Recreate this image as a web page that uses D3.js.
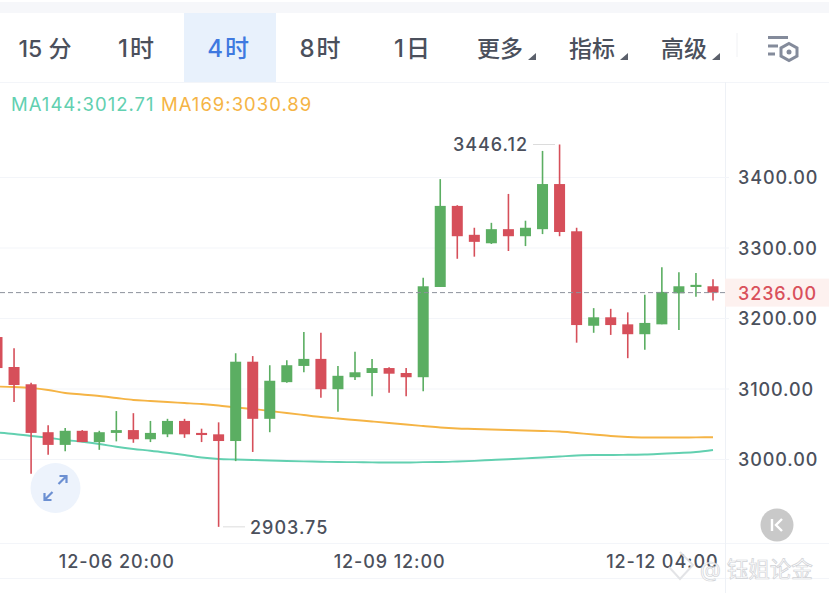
<!DOCTYPE html>
<html>
<head>
<meta charset="utf-8">
<title>K-line 4h</title>
<script src="https://cdn.jsdelivr.net/npm/d3@7/dist/d3.min.js"></script>
<style>
html, body { margin: 0; padding: 0; background: #fff; }
svg { display: block; }
text { font-family: Inter, "Noto Sans CJK SC", sans-serif; }
.tab { font-family: Inter, "Noto Sans CJK SC", sans-serif; font-size: 23px; font-weight: 500; }
.axis path { display: none; }
</style>
</head>
<body>
<div id="chart"></div>
<script>
// toolbar
var tabs = ["15 分", "1时", "4时", "8时", "1日", "更多", "指标", "高级"];
var menuTabs = ["更多", "指标", "高级"];
var activeTab = "4时";

// one 4h candle per entry
var times = ["12-05 16:00","12-05 20:00","12-06 00:00","12-06 04:00","12-06 08:00","12-06 12:00","12-06 16:00","12-06 20:00",
  "12-07 00:00","12-07 04:00","12-07 08:00","12-07 12:00","12-07 16:00","12-07 20:00","12-08 00:00","12-08 04:00",
  "12-08 08:00","12-08 12:00","12-08 16:00","12-08 20:00","12-09 00:00","12-09 04:00","12-09 08:00","12-09 12:00",
  "12-09 16:00","12-09 20:00","12-10 00:00","12-10 04:00","12-10 08:00","12-10 12:00","12-10 16:00","12-10 20:00",
  "12-11 00:00","12-11 04:00","12-11 08:00","12-11 12:00","12-11 16:00","12-11 20:00","12-12 00:00","12-12 04:00",
  "12-12 08:00","12-12 12:00","12-12 16:00"];
var opens = [3173,3130.5,3106,3038,3020,3040,3024,3037,3041,3028,3035,3054,3037,3035,3025.5,3138,3057,3109,3132,3142,3099,3116,3122,3129,
  3122,3116,3244,3359,3318,3306,3326,3316,3326,3390,3323,3189,3201,3191,3177,3191,3235,3244,3245];
var closes = [3129,3105,3037,3020,3040,3024,3038,3041,3028,3037,3054,3035,3034,3025.5,3138,3057,3111,3133,3142,3099,3118,3123,3129,3121,
  3116,3245,3359,3316,3308,3326,3316,3328,3390,3322,3190,3201,3190,3177,3193,3237,3245,3247,3236];
var highs = [3173,3157,3108,3048,3044,3041,3040,3068,3065,3054,3057,3057,3043,3052,3150,3146,3133,3140,3180,3179,3132,3152,3142,3130,
  3129,3257,3397,3360,3328,3335,3376,3338,3437,3446.12,3328,3214,3213,3208,3233,3272,3265,3264,3255];
var lows = [3129,3081,2979,3006,3011,3024,3013,3025,3023,3024,3031,3030,3024,2903.75,2997,3010,3038,3108,3123,3087,3067,3112,3089,3094,
  3089,3096,3244,3284,3287,3305,3295,3302,3319,3316,3165,3179,3176,3143,3155,3191,3183,3230,3225];
var ma144 = [3037.6,3035.5,3032.6,3030.2,3026.9,3024.5,3021.3,3017.4,3014.2,3011.8,3008.9,3005.7,3002.1,3000,2999.3,2998.6,2997.9,2997.2,2996.7,2996.2,2995.7,2995.5,2995.2,2995,
  2995,2995.5,2995.7,2996.5,2997.4,2998.6,2999.7,3000.9,3002.1,3003.5,3005,3005.7,3005.7,3006,3006.4,3007.4,3008.5,3009.9,3012.71];
var ma169 = [3102.8,3102.1,3100.7,3097.9,3093.6,3091.5,3089.4,3086.5,3083.7,3082.3,3080.8,3079.4,3078,3075.9,3073,3070.9,3068.1,3065.2,3062.4,3059.6,3057.4,3055.3,3053.2,3051.1,
  3048.9,3046.8,3044.7,3043.3,3042.6,3041.8,3041.1,3040.4,3039.7,3039,3036.9,3034.8,3032.6,3031.2,3030.5,3030.5,3030.5,3030.7,3030.89];

var priceTicks = [3000, 3100, 3200, 3300, 3400];
var timeTicks = ["12-06 20:00", "12-09 12:00", "12-12 04:00"];
var lastPrice = 3236.00;
var maxPrice = 3446.12;
var minPrice = 2903.75;

var red = "#d64f5a", green = "#5bae62", orange = "#f5b445", teal = "#62d0b0";
var textColor = "#4b505c", lineColor = "#f3f5f9";

var width = 829, height = 593;
var svg = d3.select("#chart").append("svg")
  .attr("width", width)
  .attr("height", height);

var x = d3.scalePoint().domain(times).range([-3, 713]);
var y = d3.scaleLinear().domain([3000, 3400]).range([459, 177]);

// top strip and toolbar
svg.append("rect").attr("x", 0).attr("y", 2).attr("width", width).attr("height", 11).style("fill", "#f6f7fa");

var tabX = d3.scaleBand().domain(tabs).range([0, 736]);
svg.append("rect")
  .attr("x", tabX(activeTab)).attr("y", 13)
  .attr("width", tabX.bandwidth()).attr("height", 69)
  .style("fill", "#e8f1fc");

svg.selectAll(".tab").data(tabs).enter().append("text")
  .attr("class", "tab")
  .attr("x", function(d) { return tabX(d) + tabX.bandwidth() / 2 - (menuTabs.indexOf(d) >= 0 ? 6 : 1); })
  .attr("y", 57)
  .attr("text-anchor", "middle")
  .style("font-size", function(d) { return d.length == 2 && menuTabs.indexOf(d) < 0 ? "24px" : null; })
  .style("letter-spacing", function(d) { return d.length == 2 && menuTabs.indexOf(d) < 0 ? "2px" : null; })
  .style("fill", function(d) { return d == activeTab ? "#3f79e0" : textColor; })
  .text(function(d) { return d; });

// little corner triangles on the drop down tabs
svg.selectAll(".menu").data(menuTabs).enter().append("path")
  .attr("class", "menu")
  .attr("transform", function(d) { return "translate(" + (tabX(d) + tabX.bandwidth() / 2 + 30) + ",60)"; })
  .attr("d", "M-8 0L0 0L0-7Z")
  .style("fill", "#5b606b");

svg.append("line").attr("x1", 737).attr("x2", 737).attr("y1", 33).attr("y2", 57).style("stroke", "#f0f1f4");

// settings icon
var icon = svg.append("g").attr("transform", "translate(768,36)");
icon.append("path").attr("d", "M0 1.5H20M0 10H10M0 18H7").style("stroke", "#848b9b").style("stroke-width", 3).style("fill", "none");
icon.append("path").attr("d", "M21 7.5L29 12V20L21 24.5L13 20V12Z").style("stroke", "#848b9b").style("stroke-width", 3).style("fill", "none");
icon.append("circle").attr("cx", 21).attr("cy", 16).attr("r", 2.5).style("fill", "#848b9b");

// frame lines
svg.append("line").attr("x1", 0).attr("x2", width).attr("y1", 82.5).attr("y2", 82.5).style("stroke", lineColor);
svg.append("line").attr("x1", 0).attr("x2", width).attr("y1", 543.5).attr("y2", 543.5).style("stroke", lineColor);
svg.append("line").attr("x1", 0).attr("x2", width).attr("y1", 578.5).attr("y2", 578.5).style("stroke", lineColor);
svg.append("line").attr("x1", 725.5).attr("x2", 725.5).attr("y1", 82).attr("y2", height).style("stroke", "#eef1f6");

// last price band sits under the axis
svg.append("rect")
  .attr("x", 725).attr("y", y(lastPrice) - 14)
  .attr("width", 104).attr("height", 28)
  .style("fill", "#fdf1ef");

// price axis, its long ticks are the grid
var yAxis = d3.axisRight(y)
  .tickValues(priceTicks)
  .tickSize(729)
  .tickPadding(9)
  .tickFormat(d3.format(".2f"));
var yG = svg.append("g").attr("class", "axis").call(yAxis);
yG.selectAll("line").style("stroke", lineColor);
yG.selectAll("text").attr("dy", "0.38em").style("font-size", "18px").style("font-weight", 500).style("letter-spacing", "0.9px").style("fill", textColor).attr("font-family", null);

// time axis
var xAxis = d3.axisBottom(x).tickValues(timeTicks).tickSize(0).tickPadding(0);
var xG = svg.append("g").attr("class", "axis").attr("transform", "translate(0,555)").call(xAxis);
xG.selectAll("text").style("font-size", "18px").style("font-weight", 500).style("letter-spacing", "0.9px").style("fill", textColor).attr("font-family", null);

// moving averages
var ma = function(values) {
  return d3.line()
    .x(function(d, i) { return x(times[i]); })
    .y(function(d) { return y(d); })
    .curve(d3.curveMonotoneX)(values);
};
svg.append("path").attr("d", ma(ma169)).style("fill", "none").style("stroke", orange).style("stroke-width", 1.9);
svg.append("path").attr("d", ma(ma144)).style("fill", "none").style("stroke", teal).style("stroke-width", 1.9);

// candles
var candle = svg.selectAll(".candle").data(times).enter().append("g").attr("class", "candle");
var colour = function(d, i) { return closes[i] >= opens[i] ? green : red; };
candle.append("line")
  .attr("x1", function(d) { return x(d); })
  .attr("x2", function(d) { return x(d); })
  .attr("y1", function(d, i) { return y(highs[i]); })
  .attr("y2", function(d, i) { return y(lows[i]); })
  .style("stroke", colour)
  .style("stroke-width", 1.6);
candle.append("rect")
  .attr("x", function(d) { return x(d) - 5.5; })
  .attr("width", 11)
  .attr("y", function(d, i) { return y(Math.max(opens[i], closes[i])); })
  .attr("height", function(d, i) { return Math.max(1.6, Math.abs(y(opens[i]) - y(closes[i]))); })
  .style("fill", colour);

// last price
svg.append("line")
  .attr("x1", 0).attr("x2", 725)
  .attr("y1", y(lastPrice)).attr("y2", y(lastPrice))
  .style("stroke", "#8d919b")
  .style("stroke-dasharray", "5,3");
svg.append("text")
  .attr("x", 738).attr("y", y(lastPrice) + 7)
  .style("font-size", "18px").style("font-weight", 500).style("letter-spacing", "0.9px")
  .style("fill", "#d9505b")
  .text(lastPrice.toFixed(2));

// high and low notes
var noteStyle = function(sel) {
  return sel.style("font-size", "18px").style("font-weight", 500).style("letter-spacing", "1px").style("fill", textColor);
};
svg.append("line").attr("x1", 533).attr("x2", 555).attr("y1", y(maxPrice)).attr("y2", y(maxPrice)).style("stroke", "#dcdcdc");
noteStyle(svg.append("text").attr("x", 528).attr("y", y(maxPrice) + 7).attr("text-anchor", "end")).text(maxPrice.toFixed(2));
svg.append("line").attr("x1", 223).attr("x2", 245).attr("y1", y(minPrice)).attr("y2", y(minPrice)).style("stroke", "#dcdcdc");
noteStyle(svg.append("text").attr("x", 250).attr("y", y(minPrice) + 7)).text(minPrice.toFixed(2));

// legend
var legend = svg.append("text").attr("x", 11).attr("y", 111).style("font-size", "18.5px").style("font-weight", 400).style("letter-spacing", "1px");
legend.append("tspan").style("fill", teal).text("MA144:" + ma144[ma144.length - 1].toFixed(2));
legend.append("tspan").attr("x", 161).style("fill", orange).text("MA169:" + ma169[ma169.length - 1].toFixed(2));

// expand button
var expand = svg.append("g").attr("transform", "translate(55.5,488)");
expand.append("circle").attr("r", 25).style("fill", "#edf3fc");
expand.append("path")
  .attr("d", "M3-4L11-12M4-12H11V-5M-3 4L-11 12M-4 12H-11V5")
  .style("fill", "none").style("stroke", "#6c90d2").style("stroke-width", 2.2);

// collapse button
var back = svg.append("g").attr("transform", "translate(777,525)");
back.append("circle").attr("r", 16.5).style("fill", "#c9c9c9");
back.append("path").attr("d", "M-5-6V6M5-6L-1 0L5 6").style("fill", "none").style("stroke", "#fff").style("stroke-width", 2.4);

// watermark
var mark = svg.append("g").style("opacity", 0.85);
mark.append("path").attr("d", "M680 552L693 565L680 579L669 567").style("fill", "none").style("stroke", "#dfe0e3").style("stroke-width", 2);
mark.append("text").attr("x", 700).attr("y", 577).style("font-size", "21.5px").style("fill", "#fff").style("stroke", "#c9cbd0").style("stroke-width", 0.7).text("@ 钰姐论金");
</script>
</body>
</html>
